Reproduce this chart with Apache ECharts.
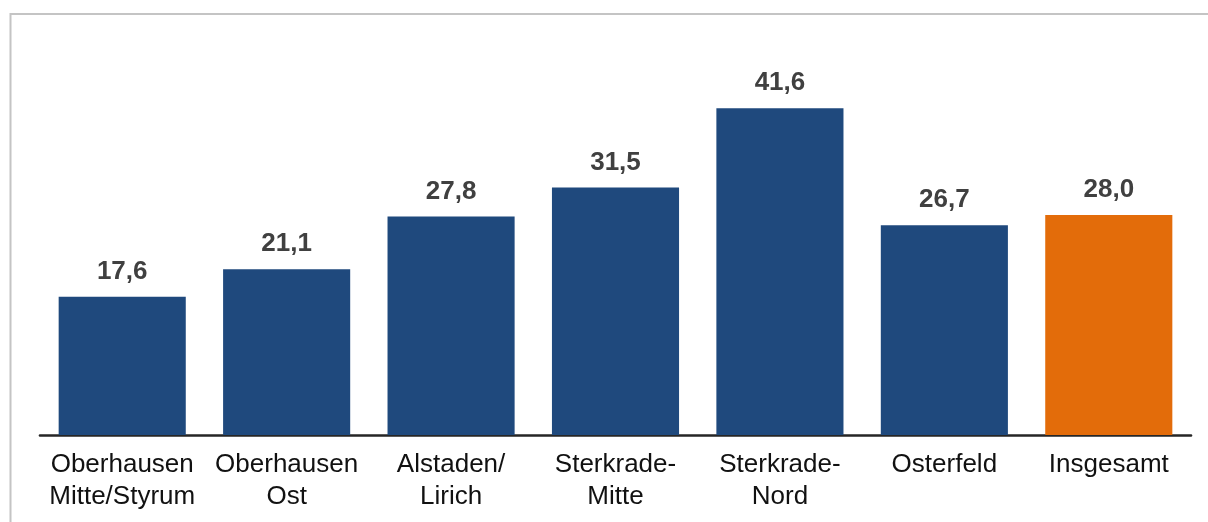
<!DOCTYPE html>
<html>
<head>
<meta charset="utf-8">
<script src="https://cdn.jsdelivr.net/npm/echarts@6/dist/echarts.min.js"></script>
<style>
  html, body { margin: 0; padding: 0; background: #ffffff; }
  #chart { width: 1208px; height: 522px; }
</style>
</head>
<body>
<div id="chart"></div>
<script>
// Districts of Oberhausen and the overall value
const categories = [
  'Oberhausen\nMitte/Styrum',
  'Oberhausen\nOst',
  'Alstaden/\nLirich',
  'Sterkrade-\nMitte',
  'Sterkrade-\nNord',
  'Osterfeld',
  'Insgesamt'
];
const values = [17.6, 21.1, 27.8, 31.5, 41.6, 26.7, 28.0];
// The last category (overall total) is highlighted
const highlightIndex = [6];

const BLUE = '#1f497d';
const ORANGE = '#e36c0a';
const FONT = '"Liberation Sans", Arial, Helvetica, sans-serif';

const chart = echarts.init(document.getElementById('chart'), null, { renderer: 'canvas' });

chart.setOption({
  animation: false,
  backgroundColor: '#ffffff',
  graphic: [{
    type: 'rect',
    shape: { x: 10.5, y: 14, width: 1400, height: 700 },
    style: { fill: 'none', stroke: '#c4c4c4', lineWidth: 2 },
    z: -1,
    silent: true
  }],
  grid: { left: 40, right: 17, top: 81.5, bottom: 87, containLabel: false },
  xAxis: {
    type: 'category',
    data: categories,
    axisTick: { show: false },
    axisLine: { show: true, lineStyle: { color: '#262626', width: 2.6 } },
    axisLabel: {
      interval: 0,
      margin: 14,
      color: '#111111',
      fontFamily: FONT,
      fontSize: 26,
      lineHeight: 32,
      align: 'center'
    }
  },
  yAxis: {
    type: 'value',
    min: 0,
    max: 45,
    show: false,
    splitLine: { show: false }
  },
  series: [{
    type: 'bar',
    data: values.map((v, i) => ({
      value: v,
      itemStyle: { color: highlightIndex.includes(i) ? ORANGE : BLUE }
    })),
    barCategoryGap: '22.7%',
    z: 1,
    label: {
      show: true,
      position: 'top',
      distance: 12,
      color: '#404040',
      fontFamily: FONT,
      fontWeight: 'bold',
      fontSize: 26,
      formatter: p => p.value.toFixed(1).replace('.', ',')
    }
  }]
});
</script>
</body>
</html>
